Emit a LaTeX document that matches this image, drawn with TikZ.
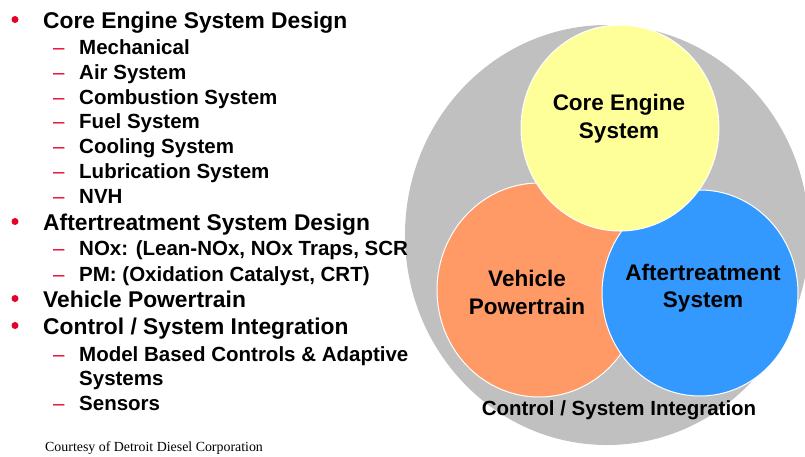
\documentclass[tikz,border=0pt]{standalone}
\usepackage{fontspec}
\setmainfont{Liberation Sans}
\newfontfamily\courtesyfont{Liberation Serif}
\definecolor{bulletred}{RGB}{230,0,40}
\definecolor{ringgray}{RGB}{192,192,192}
\definecolor{coreyellow}{RGB}{255,255,153}
\definecolor{vehorange}{RGB}{255,153,102}
\definecolor{atblue}{RGB}{51,153,255}
\tikzset{
	mainitem/.style={anchor=base west, inner sep=0pt, font=\fontsize{22.8}{27}\selectfont\bfseries},
	subitem/.style={anchor=base west, inner sep=0pt, font=\fontsize{20.5}{25}\selectfont\bfseries},
	bulletdot/.style={circle, fill=bulletred, inner sep=0pt, minimum size=7pt},
	subdash/.style={anchor=base west, inner sep=0pt, text=bulletred, font=\fontsize{20.5}{25}\selectfont},
	circlabel/.style={align=center, inner sep=0pt, font=\fontsize{22.5}{27.5}\selectfont\bfseries},
	disc/.style={draw=white, line width=1pt}
}
\begin{document}
\begin{tikzpicture}[x=1pt, y=-1pt]
	\useasboundingbox (0,0) rectangle (805,456);
	\clip (0,0) rectangle (805,456);

	% Kreise
	\fill[ringgray] (607,235) ellipse [x radius=202pt, y radius=210pt];
	\filldraw[disc, fill=vehorange] (539,290) ellipse [x radius=102pt, y radius=107pt];
	\filldraw[disc, fill=atblue] (700,293) ellipse [x radius=98pt, y radius=103pt];
	\filldraw[disc, fill=coreyellow] (620,128) ellipse [x radius=99pt, y radius=103pt];

	% Kreisbeschriftungen
	\node (core) [circlabel] at (619,118.6) {Core Engine\\System};
	\node (vehicle) [circlabel] at (527,292.6) {Vehicle\\Powertrain};
	\node (after) [circlabel] at (703,288) {Aftertreatment\\System};
	\node (control) [anchor=base, inner sep=0pt, font=\fontsize{20.5}{25}\selectfont\bfseries] at (619,415) {Control / System Integration};

	% Hauptpunkte
	\foreach \i/\y/\txt in {1/28/{Core Engine System Design}, 2/230/{Aftertreatment System Design},
		3/307/{Vehicle Powertrain}, 4/334/{Control / System Integration}}
	{
		\node (dot\i) [bulletdot] at (15,\y-8.5) {};
		\node (main\i) [mainitem] at (43,\y) {\txt};
	}

	% Unterpunkte
	\foreach \i/\y/\txt in {1/54/Mechanical, 2/79.5/Air System, 3/104/Combustion System,
		4/128.5/Fuel System, 5/153/Cooling System, 6/178/Lubrication System, 7/203/NVH,
		8/255.7/{NOx: (Lean-NOx, NOx Traps, SCR}, 9/281/{PM: (Oxidation Catalyst, CRT)},
		10/361.7/{Model Based Controls \& Adaptive}, 12/410/Sensors}
	{
		\node (dash\i) [subdash] at (53,\y) {--};
		\node (sub\i) [subitem] at (79,\y) {\txt};
	}
	\node (sub11) [subitem] at (79,385.7) {Systems};

	% Quelle
	\node (courtesy) [anchor=base west, inner sep=0pt, font=\courtesyfont\fontsize{13.9}{16}\selectfont] at (45,451.5) {Courtesy of Detroit Diesel Corporation};
\end{tikzpicture}
\end{document}
